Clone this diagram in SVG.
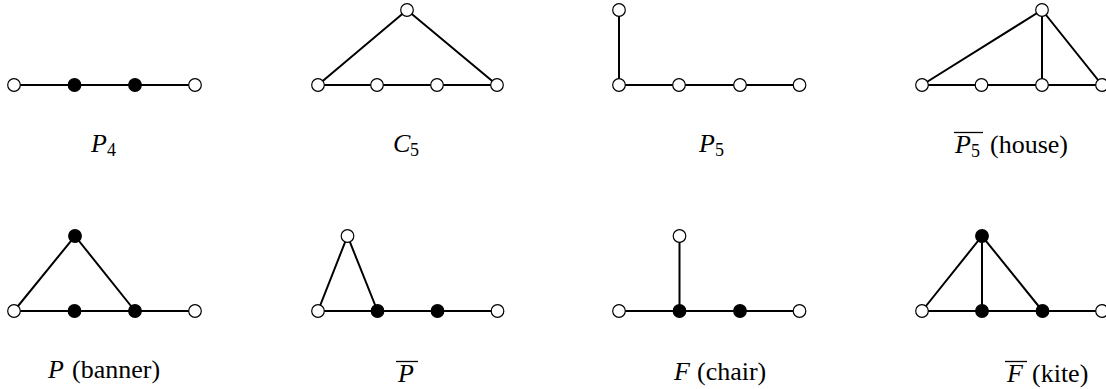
<svg xmlns="http://www.w3.org/2000/svg" width="1106" height="389" viewBox="0 0 1106 389">
<style>
.e{stroke:#000;stroke-width:2;fill:none}
.w{fill:#fff;stroke:#000;stroke-width:1.2}
.b{fill:#000;stroke:#000;stroke-width:1.2}
.t{font-family:"Liberation Serif","Times New Roman",serif;font-size:26px;fill:#000}
.i{font-style:italic}
.s{font-size:18px}
.o{stroke:#000;stroke-width:1.3}
</style>
<rect width="1106" height="389" fill="#fff"/>
<g id="connectors">
<path class="e" d="M14,85H195"/>
<path class="e" d="M318,85H497L407,10Z"/>
<path class="e" d="M619,10V85H799.5"/>
<path class="e" d="M922,85H1102L1042,10L922,85M1042,10V85"/>
<path class="e" d="M14,311H195M14,311L75,236L135,311"/>
<path class="e" d="M318,311H497.5M318,311L347.5,236L377.5,311"/>
<path class="e" d="M619,311H799.5M679.5,236V311"/>
<path class="e" d="M922,311H1102M922,311L982,236L1042.5,311M982,236V311"/>
</g>
<g id="P4">
<circle class="w" cx="14" cy="85" r="6.3"/><circle class="b" cx="74.5" cy="85" r="6.3"/><circle class="b" cx="135" cy="85" r="6.3"/><circle class="w" cx="195" cy="85" r="6.3"/>
<text class="t" y="152"><tspan class="i" x="91">P</tspan><tspan class="s" x="107" dy="4">4</tspan></text>
</g>
<g id="C5">
<circle class="w" cx="407" cy="10" r="6.3"/><circle class="w" cx="318" cy="85" r="6.3"/><circle class="w" cx="377" cy="85" r="6.3"/><circle class="w" cx="437" cy="85" r="6.3"/><circle class="w" cx="497" cy="85" r="6.3"/>
<text class="t" y="152"><tspan class="i" x="393">C</tspan><tspan class="s" x="410" dy="4">5</tspan></text>
</g>
<g id="P5">
<circle class="w" cx="619" cy="10" r="6.3"/><circle class="w" cx="619" cy="85" r="6.3"/><circle class="w" cx="679" cy="85" r="6.3"/><circle class="w" cx="740" cy="85" r="6.3"/><circle class="w" cx="799.5" cy="85" r="6.3"/>
<text class="t" y="152"><tspan class="i" x="699">P</tspan><tspan class="s" x="715" dy="4">5</tspan></text>
</g>
<g id="house">
<circle class="w" cx="1042" cy="10" r="6.3"/><circle class="w" cx="922" cy="85" r="6.3"/><circle class="w" cx="981.5" cy="85" r="6.3"/><circle class="w" cx="1042" cy="85" r="6.3"/><circle class="w" cx="1102" cy="85" r="6.3"/>
<line class="o" x1="954" y1="132.5" x2="983" y2="132.5"/>
<text class="t" y="153"><tspan class="i" x="955">P</tspan><tspan class="s" x="971" dy="4">5</tspan><tspan x="990" dy="-4">(house)</tspan></text>
</g>
<g id="banner">
<circle class="b" cx="75" cy="236" r="6.3"/><circle class="w" cx="14" cy="311" r="6.3"/><circle class="b" cx="74.5" cy="311" r="6.3"/><circle class="b" cx="135" cy="311" r="6.3"/><circle class="w" cx="195" cy="311" r="6.3"/>
<text class="t" y="378"><tspan class="i" x="48">P</tspan><tspan x="72">(banner)</tspan></text>
</g>
<g id="Pbar">
<circle class="w" cx="347.5" cy="236" r="6.3"/><circle class="w" cx="318" cy="311" r="6.3"/><circle class="b" cx="377.5" cy="311" r="6.3"/><circle class="b" cx="437.5" cy="311" r="6.3"/><circle class="w" cx="497.5" cy="311" r="6.3"/>
<line class="o" x1="396" y1="361.5" x2="418" y2="361.5"/>
<text class="t" y="382"><tspan class="i" x="398">P</tspan></text>
</g>
<g id="chair">
<circle class="w" cx="679.5" cy="236" r="6.3"/><circle class="w" cx="619" cy="311" r="6.3"/><circle class="b" cx="679.5" cy="311" r="6.3"/><circle class="b" cx="740" cy="311" r="6.3"/><circle class="w" cx="799.5" cy="311" r="6.3"/>
<text class="t" y="380"><tspan class="i" x="674">F</tspan><tspan x="697">(chair)</tspan></text>
</g>
<g id="kite">
<circle class="b" cx="982" cy="236" r="6.3"/><circle class="w" cx="922" cy="311" r="6.3"/><circle class="b" cx="982" cy="311" r="6.3"/><circle class="b" cx="1042.5" cy="311" r="6.3"/><circle class="w" cx="1102" cy="311" r="6.3"/>
<line class="o" x1="1005" y1="361.5" x2="1027" y2="361.5"/>
<text class="t" y="382"><tspan class="i" x="1007">F</tspan><tspan x="1032">(kite)</tspan></text>
</g>
</svg>
